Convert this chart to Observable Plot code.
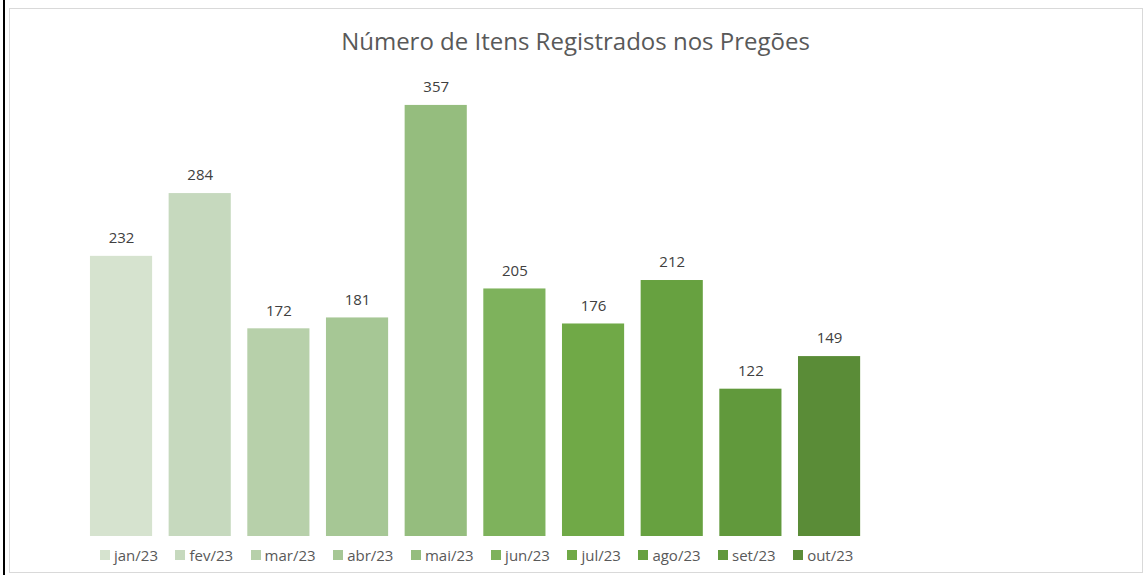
<!DOCTYPE html>
<html>
<head>
<meta charset="utf-8">
<script src="https://cdn.jsdelivr.net/npm/d3@7"></script>
<script src="https://cdn.jsdelivr.net/npm/@observablehq/plot@0.6"></script>
<style>
  html, body { margin: 0; padding: 0; background: #fff; }
  body { width: 1145px; height: 575px; position: relative; overflow: hidden; font-family: "Open Sans", "Noto Sans", sans-serif; }
  #edge { position: absolute; left: 3px; top: 0; width: 2px; height: 575px; background: #000; }
  #frame { position: absolute; left: 9px; top: 8px; width: 1132px; height: 563px; border: 1px solid #d9d9d9; box-sizing: content-box; }
  #title { position: absolute; left: 9px; width: 1133px; top: 24px; text-align: center; font-size: 24px; color: #595959; }
  #chart { position: absolute; left: 0; top: 0; }
  #legend { position: absolute; left: 100px; top: 545px; display: flex; font-size: 15px; color: #595959; }
  .item { display: flex; align-items: center; margin-right: 17.5px; }
  .sw { width: 10px; height: 10px; margin-right: 4px; }
</style>
</head>
<body>
<div id="edge"></div>
<div id="frame"></div>
<div id="title">Número de Itens Registrados nos Pregões</div>
<div id="chart"></div>
<div id="legend"></div>
<script>
const months = ["jan/23","fev/23","mar/23","abr/23","mai/23","jun/23","jul/23","ago/23","set/23","out/23"];
const values = [232, 284, 172, 181, 357, 205, 176, 212, 122, 149];
const colors = ["#d6e3cf","#c6d9be","#b7d0aa","#a6c795","#95bd7e","#7eb25c","#70a947","#67a140","#61993c","#5a8c37"];

const data = months.map((m, i) => ({month: m, value: values[i]}));

const plot = Plot.plot({
  width: 1145,
  height: 545,
  marginLeft: 81.7,
  marginRight: 276.6,
  marginTop: 53,
  marginBottom: 9,
  style: {fontFamily: '"Open Sans", sans-serif', background: "transparent"},
  x: {domain: months, paddingInner: 0.21, paddingOuter: 0.105, round: false, axis: null},
  y: {domain: [0, 400], axis: null},
  color: {domain: months, range: colors},
  marks: [
    Plot.barY(data, {x: "month", y: "value", fill: "month"}),
    Plot.text(data, {x: "month", y: "value", text: d => String(d.value), dy: -18, fontSize: 15, fill: "#404040"})
  ]
});
document.getElementById("chart").appendChild(plot);

const legend = document.getElementById("legend");
months.forEach((m, i) => {
  const it = document.createElement("div");
  it.className = "item";
  const sw = document.createElement("div");
  sw.className = "sw";
  sw.style.background = colors[i];
  const tx = document.createElement("span");
  tx.textContent = m;
  it.appendChild(sw); it.appendChild(tx);
  legend.appendChild(it);
});
</script>
</body>
</html>
